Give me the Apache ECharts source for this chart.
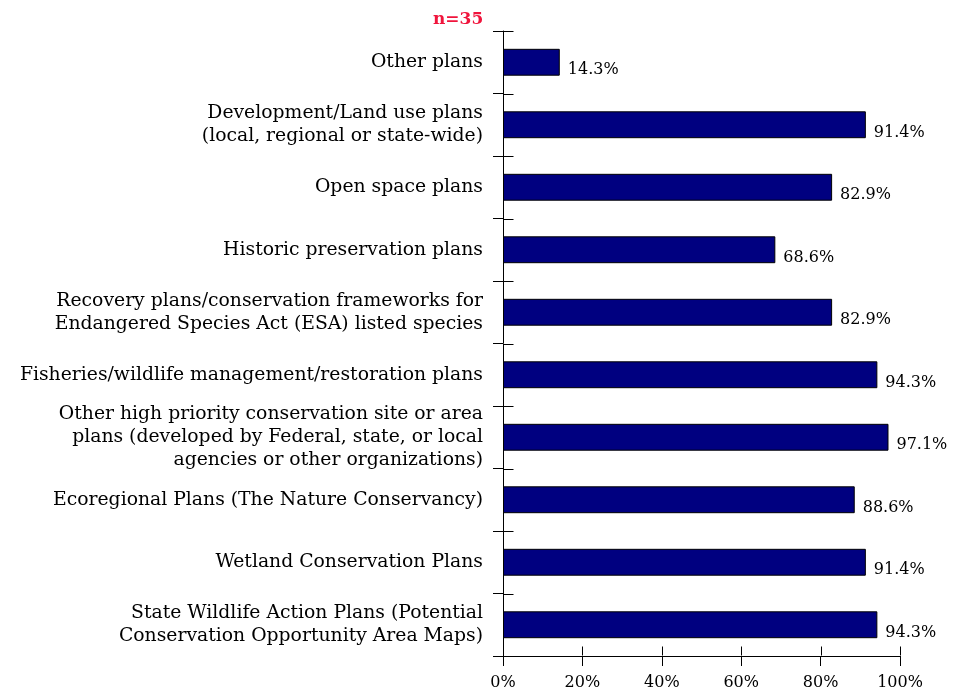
<!DOCTYPE html>
<html>
<head>
<meta charset="utf-8">
<script src="https://cdn.jsdelivr.net/npm/echarts@6/dist/echarts.min.js"></script>
<style>
  html, body { margin: 0; padding: 0; background: #fff; }
  #chart { width: 960px; height: 696px; }
</style>
</head>
<body>
<div id="chart"></div>
<script>
// Plan types, listed bottom to top as they appear on the category axis
const categories = [
  'State Wildlife Action Plans (Potential\nConservation Opportunity Area Maps)',
  'Wetland Conservation Plans',
  'Ecoregional Plans (The Nature Conservancy)',
  'Other high priority conservation site or area\nplans (developed by Federal, state, or local\nagencies or other organizations)',
  'Fisheries/wildlife management/restoration plans',
  'Recovery plans/conservation frameworks for\nEndangered Species Act (ESA) listed species',
  'Historic preservation plans',
  'Open space plans',
  'Development/Land use plans\n(local, regional or state-wide)',
  'Other plans'
];
// Share of respondents (%) using each plan type
const values = [94.3, 91.4, 88.6, 97.1, 94.3, 82.9, 68.6, 82.9, 91.4, 14.3];
const xTicks = [0, 20, 40, 60, 80, 100];
const sampleLabel = 'n=35';

const FONT = 'DejaVu Serif';
const chart = echarts.init(document.getElementById('chart'), null, { renderer: 'canvas' });

const tickStyle = { color: '#000', width: 1 };
const xMin = xTicks[0];
const xMax = xTicks[xTicks.length - 1];
const snap = v => Math.round(v) + 0.5;
const tickLine = (x1, y1, x2, y2) => ({
  type: 'line',
  shape: { x1, y1, x2, y2 },
  style: { stroke: '#000', lineWidth: 1 }
});

chart.setOption({
  animation: false,
  backgroundColor: '#ffffff',
  title: {
    text: sampleLabel,
    left: 428,
    top: 6,
    textStyle: { color: '#f0143c', fontFamily: FONT, fontWeight: 'bold', fontSize: 17 }
  },
  grid: { left: 503, top: 31, width: 397, height: 625, containLabel: false },
  xAxis: {
    type: 'value',
    min: xMin,
    max: xMax,
    interval: 20,
    axisLine: { show: true, lineStyle: tickStyle },
    axisTick: { show: true, length: 10, lineStyle: tickStyle },
    splitLine: { show: false },
    axisLabel: {
      color: '#000', fontFamily: FONT, fontSize: 16, margin: 19,
      formatter: v => v + '%'
    }
  },
  yAxis: {
    type: 'category',
    data: categories,
    axisLine: { show: true, lineStyle: tickStyle },
    axisTick: { show: true, length: 10, lineStyle: tickStyle },
    axisLabel: {
      color: '#000', fontFamily: FONT, fontSize: 18.8, margin: 20,
      lineHeight: 23, align: 'right'
    }
  },
  series: [
    {
      type: 'bar',
      data: values,
      barCategoryGap: '57%',
      itemStyle: { color: '#000080', borderColor: '#000', borderWidth: 1 },
      label: {
        show: true,
        position: 'right',
        distance: 8,
        offset: [0, 8],
        color: '#000',
        fontFamily: FONT,
        fontSize: 16,
        formatter: p => p.value.toFixed(1) + '%'
      }
    },
    {
      // upward half of each value-axis tick, so the ticks cross the axis line
      type: 'custom',
      silent: true,
      z: 10,
      clip: false,
      data: xTicks.map(v => [v, 0]),
      renderItem: (params, api) => {
        const p = api.coord([api.value(0), 0]);
        const band = api.size([0, 1])[1];
        const x = snap(p[0]);
        const yBase = Math.round(p[1] + band / 2) - 0.5;
        return tickLine(x, yBase, x, yBase - 9);
      }
    },
    {
      // right-hand half of each category-axis tick at the band boundaries
      type: 'custom',
      silent: true,
      z: 10,
      clip: false,
      data: categories.map((c, i) => [xMin, i]),
      renderItem: (params, api) => {
        const idx = api.value(1);
        const p = api.coord([xMin, idx]);
        const band = api.size([0, 1])[1];
        const x0 = snap(p[0]);
        const children = [tickLine(x0, snap(p[1] + band / 2), x0 + 10, snap(p[1] + band / 2))];
        if (idx === categories.length - 1) {
          children.push(tickLine(x0, snap(p[1] - band / 2), x0 + 10, snap(p[1] - band / 2)));
        }
        return { type: 'group', children };
      }
    }
  ]
});
</script>
</body>
</html>
